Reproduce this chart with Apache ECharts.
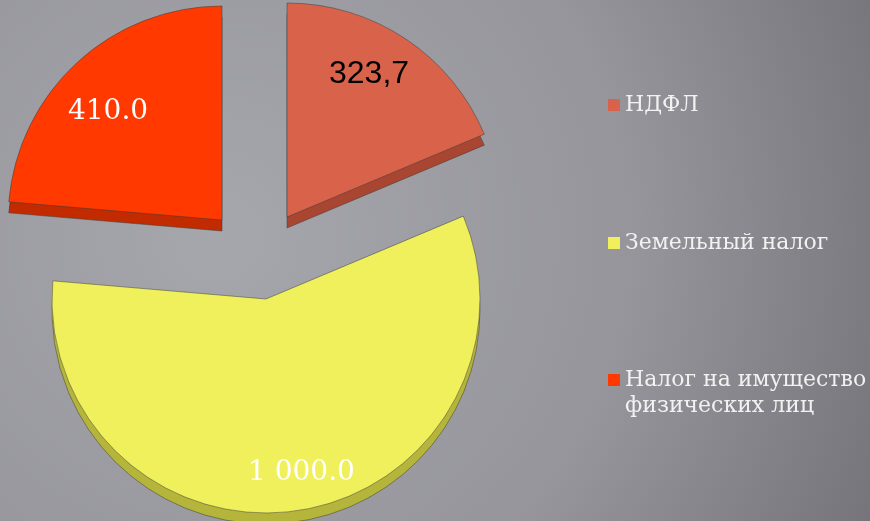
<!DOCTYPE html>
<html>
<head>
<meta charset="utf-8">
<script src="https://cdn.jsdelivr.net/npm/echarts@6/dist/echarts.min.js"></script>
<style>
  html, body { margin: 0; padding: 0; }
  #chart { width: 870px; height: 521px; }
</style>
</head>
<body>
<div id="chart"></div>
<script>
// данные
var categories = ['НДФЛ', 'Земельный налог', 'Налог на имущество физических лиц'];
var values = [323.7, 1000.0, 410.0];
var valueLabels = ['323,7', '1 000.0', '410.0'];
// пустая строка сверху, чтобы значок встал напротив первой строки
var legendNames = ['НДФЛ', 'Земельный налог', ' \nНалог на имущество\nфизических лиц'];

var colors = ['#d9634a', '#f0f05c', '#ff3900'];
var edgeColors = ['#a84632', '#b5b53c', '#c22a00'];
var labelStyle = [
    { color: '#000', fontFamily: 'Liberation Sans', fontSize: 32, dx: -12, dy: -1 },
    { color: '#fff', fontFamily: 'DejaVu Serif', fontSize: 28, dx: 9, dy: 6 },
    { color: '#fff', fontFamily: 'DejaVu Serif', fontSize: 28, dx: 1, dy: 17 }
];
// каждая доля вынесена отдельно
var centers = [[287, 217], [266, 299], [222, 220]];
var R = 214;
var depth = 11;

var myChart = echarts.init(document.getElementById('chart'));

var series = [];
['edge', 'face', 'label'].forEach(function (role) {
    categories.forEach(function (name, k) {
        var c = centers[k];
        series.push({
            type: 'pie',
            silent: true,
            animation: false,
            startAngle: 90,
            clockwise: true,
            center: role === 'edge' ? [c[0], c[1] + depth] : c,
            radius: role === 'label' ? [R * 0.56, R] : [0, R],
            labelLine: { show: false },
            labelLayout: { dx: labelStyle[k].dx, dy: labelStyle[k].dy },
            emphasis: { disabled: true },
            data: values.map(function (v, i) {
                var on = i === k;
                var fill = 'rgba(0,0,0,0)';
                if (on && role === 'edge') fill = edgeColors[k];
                if (on && role === 'face') fill = colors[k];
                return {
                    name: categories[i],
                    value: v,
                    itemStyle: {
                        color: fill,
                        borderWidth: on && role !== 'label' ? 1 : 0,
                        borderColor: 'rgba(60,60,60,0.5)'
                    },
                    label: {
                        show: on && role === 'label',
                        position: 'inside',
                        formatter: valueLabels[k],
                        color: labelStyle[k].color,
                        fontFamily: labelStyle[k].fontFamily,
                        fontSize: labelStyle[k].fontSize
                    }
                };
            })
        });
    });
});

function legendBlock(names, top, gap) {
    return {
        orient: 'vertical',
        left: 603,
        top: top,
        itemGap: gap,
        itemWidth: 12,
        itemHeight: 12,
        icon: 'rect',
        selectedMode: false,
        formatter: function (name) {
            return legendNames[categories.indexOf(name)];
        },
        textStyle: {
            color: '#f2f2f2',
            fontFamily: 'DejaVu Serif',
            fontSize: 22,
            lineHeight: 26
        },
        data: names.map(function (n) {
            return { name: n, itemStyle: { color: colors[categories.indexOf(n)], borderWidth: 0 } };
        })
    };
}

var option = {
    backgroundColor: {
        type: 'radial',
        x: 0.25, y: 0.45, r: 1.6,
        colorStops: [
            { offset: 0, color: '#a6a7ac' },
            { offset: 0.5, color: '#95959b' },
            { offset: 0.85, color: '#75757b' },
            { offset: 1, color: '#5c5c60' }
        ]
    },
    legend: [
        legendBlock(categories.slice(0, 2), 87, 112),
        legendBlock(categories.slice(2), 336, 0)
    ],
    series: series
};
myChart.setOption(option, true);
</script>
</body>
</html>
